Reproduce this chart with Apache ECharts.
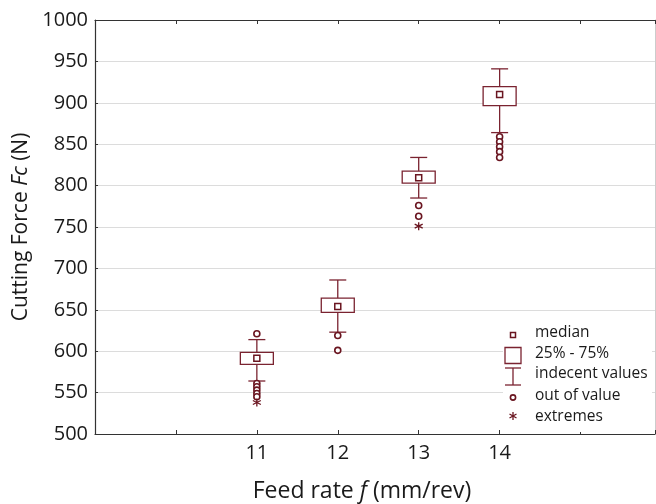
<!DOCTYPE html>
<html>
<head>
<meta charset="utf-8">
<script src="https://cdn.jsdelivr.net/npm/echarts@6/dist/echarts.min.js"></script>
<style>
  html, body { margin: 0; padding: 0; background: #fff; }
  #chart { width: 656px; height: 504px; }
</style>
</head>
<body>
<div id="chart"></div>
<script>
  const feedRates = [11, 12, 13, 14];
  const whiskerLow = [564, 623, 785, 864];
  const q1 = [584, 647, 803, 896.5];
  const median = [591.5, 654, 809.5, 910];
  const q3 = [598.5, 664, 817.5, 919.5];
  const whiskerHigh = [614, 686, 834, 941];
  const outliers = [
    [11, 621], [11, 561], [11, 557], [11, 553], [11, 549], [11, 545],
    [12, 619], [12, 601],
    [13, 776], [13, 763],
    [14, 859], [14, 853], [14, 847], [14, 841], [14, 834]
  ];
  const extremes = [[11, 538], [13, 751]];
  const xTickLabels = ["11", "12", "13", "14"];

  const maroon = "#7a2330";
  const dark = "#6a1520";
  const font = "Open Sans";
  const star = "path://M0,-10L0,10M-8.66,-5L8.66,5M-8.66,5L8.66,-5";

  const chart = echarts.init(document.getElementById("chart"));

  function renderBox(params, api) {
    const x = api.value(0);
    const low = api.coord([x, api.value(1)]);
    const lo = api.coord([x, api.value(2)]);
    const hi = api.coord([x, api.value(3)]);
    const high = api.coord([x, api.value(4)]);
    const cx = low[0];
    const halfBox = 16.5;
    const halfCap = 8.5;
    const style = { stroke: maroon, lineWidth: 1.3, fill: null };
    return {
      type: "group",
      children: [
        { type: "line", shape: { x1: cx, y1: high[1], x2: cx, y2: hi[1] }, style },
        { type: "line", shape: { x1: cx, y1: lo[1], x2: cx, y2: low[1] }, style },
        { type: "line", shape: { x1: cx - halfCap, y1: high[1], x2: cx + halfCap, y2: high[1] }, style },
        { type: "line", shape: { x1: cx - halfCap, y1: low[1], x2: cx + halfCap, y2: low[1] }, style },
        { type: "rect", shape: { x: cx - halfBox, y: hi[1], width: halfBox * 2, height: lo[1] - hi[1] },
          style: { stroke: maroon, lineWidth: 1.3, fill: "#fff" } }
      ]
    };
  }

  // legend key drawn as a small block at lower right
  const lx = 513;
  const legendText = [["median", 333], ["25% - 75%", 354], ["indecent values", 374], ["out of value", 396], ["extremes", 417]];
  const keyStroke = { stroke: maroon, lineWidth: 1.3, fill: null };
  const legendGraphic = [
    { type: "rect", shape: { x: 503, y: 318, width: 149, height: 114 }, style: { fill: "#fff" }, z: 50 },
    { type: "rect", shape: { x: lx - 2.5, y: 332.5, width: 5, height: 5 }, style: { stroke: dark, lineWidth: 1.5, fill: "#fff" }, z: 51 },
    { type: "rect", shape: { x: 505, y: 347.5, width: 16, height: 16 }, style: keyStroke, z: 51 },
    { type: "line", shape: { x1: lx, y1: 368, x2: lx, y2: 385 }, style: keyStroke, z: 51 },
    { type: "line", shape: { x1: 505, y1: 368, x2: 521, y2: 368 }, style: keyStroke, z: 51 },
    { type: "line", shape: { x1: 505, y1: 385, x2: 521, y2: 385 }, style: keyStroke, z: 51 },
    { type: "circle", shape: { cx: lx, cy: 397.5, r: 2.6 }, style: { stroke: dark, lineWidth: 1.6, fill: "#fff" }, z: 51 },
    { type: "line", shape: { x1: lx, y1: 412, x2: lx, y2: 420 }, style: { stroke: dark, lineWidth: 1.3 }, z: 51 },
    { type: "line", shape: { x1: lx - 3.5, y1: 414, x2: lx + 3.5, y2: 418 }, style: { stroke: dark, lineWidth: 1.3 }, z: 51 },
    { type: "line", shape: { x1: lx - 3.5, y1: 418, x2: lx + 3.5, y2: 414 }, style: { stroke: dark, lineWidth: 1.3 }, z: 51 }
  ].concat(legendText.map(([text, y]) => ({
    type: "text", z: 51,
    style: { text, x: 535, y, fontSize: 15.5, fontFamily: font, fill: "#1a1a1a", verticalAlign: "middle" }
  })));

  chart.setOption({
    animation: false,
    backgroundColor: "#fff",
    grid: { left: 95, top: 20, width: 560, bottom: 70, outerBoundsMode: "none", containLabel: false },
    xAxis: [
      {
        type: "value", min: 9, max: 15.92, interval: 1,
        name: "Feed rate {i|f} (mm/rev)", nameLocation: "middle", nameGap: 46,
        nameTextStyle: { fontSize: 23, fontFamily: font, color: "#1a1a1a", padding: [0, 26, 0, 0],
          rich: { i: { fontSize: 23, fontFamily: font, fontStyle: "italic", color: "#1a1a1a" } } },
        axisLine: { show: true, lineStyle: { color: "#333", width: 1.2 } },
        axisTick: { show: true, inside: true, length: 4, lineStyle: { color: "#333" } },
        axisLabel: {
          margin: 9, fontSize: 20, fontFamily: font, color: "#1a1a1a",
          formatter: (v) => xTickLabels.includes(String(v)) ? String(v) : ""
        },
        splitLine: { show: false }
      },
      {
        type: "value", position: "top", min: 9, max: 15.92, interval: 1,
        axisLine: { show: true, lineStyle: { color: "#333", width: 1.2 } },
        axisTick: { show: true, inside: true, length: 4, lineStyle: { color: "#333" } },
        axisLabel: { show: false },
        splitLine: { show: false }
      }
    ],
    yAxis: [
      {
        type: "value", min: 500, max: 1000, interval: 50,
        name: "Cutting Force {i|Fc} (N)", nameLocation: "middle", nameGap: 63,
        nameTextStyle: { fontSize: 21, fontFamily: font, color: "#1a1a1a",
          rich: { i: { fontSize: 21, fontFamily: font, fontStyle: "italic", color: "#1a1a1a" } } },
        axisLine: { show: true, lineStyle: { color: "#333", width: 1.2 } },
        axisTick: { show: true, inside: true, length: 3, lineStyle: { color: "#333" } },
        axisLabel: { margin: 7, fontSize: 20, fontFamily: font, color: "#1a1a1a", formatter: (v) => String(v) },
        splitLine: { show: true, lineStyle: { color: "#dcdcdc", width: 1 } }
      },
      {
        type: "value", position: "right", min: 500, max: 1000,
        axisLine: { show: true, lineStyle: { color: "#ccc", width: 1 } },
        axisTick: { show: false }, axisLabel: { show: false }, splitLine: { show: false }
      }
    ],
    series: [
      {
        name: "25% - 75%", type: "custom", renderItem: renderBox,
        encode: { x: 0, y: [1, 2, 3, 4] },
        data: feedRates.map((f, i) => [f, whiskerLow[i], q1[i], q3[i], whiskerHigh[i]]), z: 3
      },
      {
        name: "median", type: "scatter", symbol: "rect", symbolSize: 6,
        itemStyle: { color: "#fff", borderColor: dark, borderWidth: 1.5, opacity: 1 },
        data: feedRates.map((f, i) => [f, median[i]]), z: 4
      },
      {
        name: "out of value", type: "scatter", symbol: "circle", symbolSize: 6,
        itemStyle: { color: "#fff", borderColor: dark, borderWidth: 1.6, opacity: 1 },
        data: outliers, z: 5
      },
      {
        name: "extremes", type: "scatter", symbol: star, symbolSize: 8,
        itemStyle: { color: "transparent", borderColor: dark, borderWidth: 1.3, opacity: 1 },
        data: extremes, z: 5
      }
    ],
    graphic: legendGraphic
  });
</script>
</body>
</html>
